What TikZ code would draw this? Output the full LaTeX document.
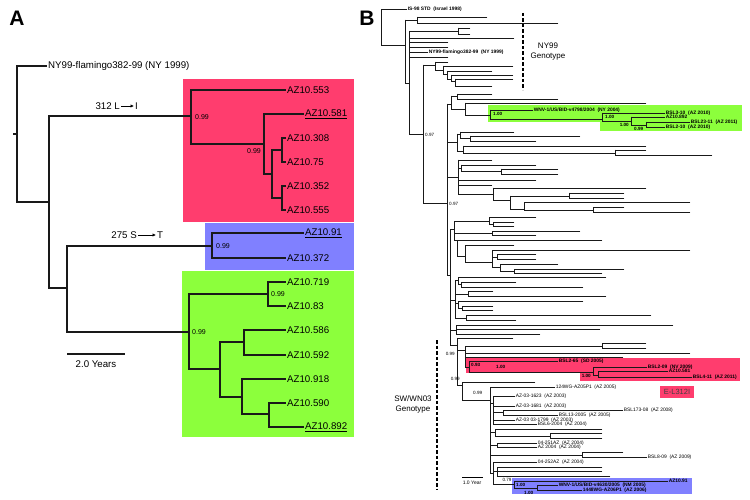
\documentclass[tikz,border=0pt]{standalone}
\usepackage{fontspec}
\setmainfont{Liberation Sans}
\usetikzlibrary{arrows.meta}
\definecolor{redbox}{RGB}{255,61,110}
\definecolor{bluebox}{RGB}{128,128,255}
\definecolor{greenbox}{RGB}{140,255,60}
\newcommand\Hb[3]{\draw[bbr] (#2,#1) -- (#3,#1);}
\newcommand\Vb[3]{\draw[bbr] (#1,#2) -- (#1,#3);}
\begin{document}
\begin{tikzpicture}[x=1pt,y=-1pt,
  abr/.style={line width=1.15pt, draw=black!90},
  bbr/.style={line width=0.75pt, draw=black!90, line cap=rect},
  alab/.style={anchor=west, inner sep=1pt, font=\fontsize{9.7}{11}\selectfont},
  asup/.style={inner sep=0pt, font=\fontsize{7}{8}\selectfont},
  blab/.style={anchor=west, inner sep=0.6pt, font=\fontsize{4.9}{5.5}\selectfont},
  bbold/.style={anchor=west, inner sep=0.6pt, font=\fontsize{4.9}{5.5}\selectfont\bfseries},
  bsup/.style={inner sep=0pt, font=\fontsize{4.6}{5}\selectfont},
  bsupb/.style={inner sep=0pt, font=\fontsize{4.6}{5}\selectfont\bfseries},
  geno/.style={align=center, inner sep=0pt, font=\fontsize{8}{10}\selectfont},
  panel/.style={inner sep=0pt, font=\fontsize{21}{21}\selectfont\bfseries},
  dashline/.style={line width=1.4pt, dash pattern=on 3.5pt off 2pt}]
\useasboundingbox (0,0) rectangle (750,500);

% ================= Panel A =================
\node[panel] (pA) at (17,18) {A};
\fill[redbox] (183,79) rectangle (354,222);
\fill[bluebox] (205,223) rectangle (354,270);
\fill[greenbox] (182,271) rectangle (354,437);

\coordinate (a0) at (17,134);
\coordinate (rt) at (13,134);
\coordinate (a1) at (49,202);
\coordinate (a2) at (191,116);
\coordinate (a3) at (67,288);
\coordinate (a4) at (264,144);
\coordinate (a5) at (272,174);
\coordinate (a6) at (282,150);
\coordinate (a7) at (282,198);
\coordinate (a8) at (212,246);
\coordinate (a9) at (189,332);
\coordinate (a10) at (268,294);
\coordinate (a11) at (220,369);
\coordinate (a12) at (244,342);
\coordinate (a13) at (242,397);
\coordinate (a14) at (269,414);

\node[alab] (ny) at (47,66) {NY99-flamingo382-99 (NY 1999)};
\node[alab] (l553) at (286,90) {AZ10.553};
\node[alab] (l581) at (304,114) {\underline{AZ10.581}};
\node[alab] (l308) at (286,138) {AZ10.308};
\node[alab] (l75) at (286,162) {AZ10.75};
\node[alab] (l352) at (286,186) {AZ10.352};
\node[alab] (l555) at (286,210) {AZ10.555};
\node[alab] (l91) at (304,233) {\underline{AZ10.91}};
\node[alab] (l372) at (286,258) {AZ10.372};
\node[alab] (l719) at (286,282) {AZ10.719};
\node[alab] (l83) at (286,306) {AZ10.83};
\node[alab] (l586) at (286,330) {AZ10.586};
\node[alab] (l592) at (286,355) {AZ10.592};
\node[alab] (l918) at (286,379) {AZ10.918};
\node[alab] (l590) at (286,403) {AZ10.590};
\node[alab] (l892) at (304,427) {\underline{AZ10.892}};

\draw[abr] (rt) -- (a0);
\draw[abr] (a0) |- (ny.west);
\draw[abr] (a0) |- (a1);
\draw[abr] (a1) |- (a2);
\draw[abr] (a1) |- (a3);
\draw[abr] (a2) |- (l553.west);
\draw[abr] (a2) |- (a4);
\draw[abr] (a4) |- (l581.west);
\draw[abr] (a4) |- (a5);
\draw[abr] (a5) |- (a6);
\draw[abr] (a5) |- (a7);
\draw[abr] (a6) |- (l308.west);
\draw[abr] (a6) |- (l75.west);
\draw[abr] (a7) |- (l352.west);
\draw[abr] (a7) |- (l555.west);
\draw[abr] (a3) |- (a8);
\draw[abr] (a3) |- (a9);
\draw[abr] (a8) |- (l91.west);
\draw[abr] (a8) |- (l372.west);
\draw[abr] (a9) |- (a10);
\draw[abr] (a9) |- (a11);
\draw[abr] (a10) |- (l719.west);
\draw[abr] (a10) |- (l83.west);
\draw[abr] (a11) |- (a12);
\draw[abr] (a11) |- (a13);
\draw[abr] (a12) |- (l586.west);
\draw[abr] (a12) |- (l592.west);
\draw[abr] (a13) |- (l918.west);
\draw[abr] (a13) |- (a14);
\draw[abr] (a14) |- (l590.west);
\draw[abr] (a14) |- (l892.west);

\node[asup, anchor=west] (s1) at (195,117.5) {0.99};
\node[asup, anchor=east] (s2) at (261,151) {0.99};
\node[asup, anchor=west] (s3) at (216,246.5) {0.99};
\node[asup, anchor=west] (s4) at (192,332.5) {0.99};
\node[asup, anchor=west] (s5) at (271,294.5) {0.99};

\node[alab, anchor=east] (m1a) at (121,106) {312 L};
\node[alab] (m1b) at (134,106) {I};
\draw[line width=0.9pt, -{Latex[length=3.5pt,width=3.5pt]}] (m1a.east) -- (m1b.west);
\node[alab, anchor=east] (m2a) at (138,235) {275 S};
\node[alab] (m2b) at (156,235) {T};
\draw[line width=0.9pt, -{Latex[length=3.5pt,width=3.5pt]}] (m2a.east) -- (m2b.west);

\coordinate (sa1) at (67,354);
\coordinate (sa2) at (125,354);
\draw[abr] (sa1) -- (sa2);
\node[inner sep=0pt, font=\fontsize{9.7}{11}\selectfont] (sal) at (96,364) {2.0 Years};

% ================= Panel B =================
\node[panel] (pB) at (367,18) {B};

\fill[greenbox] (488,105) rectangle (600,122);
\fill[greenbox] (600,105) rectangle (742,131);
\fill[redbox] (466,358) rectangle (580,373);
\fill[redbox] (580,358) rectangle (740,381);
\fill[bluebox] (512,478) rectangle (692,494);
\fill[redbox] (660,386) rectangle (694,398);
\node[inner sep=0pt, font=\fontsize{7.5}{8}\selectfont, text=black!75] (el) at (677,392) {E-L312I};

\draw[dashline] (523,13) -- (523,90);
\node[geno] (ny99g) at (548,52) {NY99\\Genotype};
\draw[dashline] (437,340) -- (437,490);
\node[geno] (swg) at (413,404.5) {SW/WN03\\Genotype};

% root and NY99 part
\Vb{381}{9.5}{45}
\Hb{9.5}{381}{407}
\Hb{45}{381}{405}
\Vb{405}{20}{83}
\Hb{20}{405}{417}
\Vb{417}{17}{23}
\Hb{17}{417}{487}
\Hb{23}{417}{558}
\Hb{83}{405}{409}
\Vb{409}{31}{134}
\Hb{31}{409}{458}
\Vb{458}{28}{34}
\Hb{28}{458}{470}
\Hb{34}{458}{470}
\Hb{38}{409}{514}
\Hb{42}{409}{448}
\Hb{47}{409}{448}
\Hb{52}{409}{428}
\Hb{57}{409}{448}
\Hb{134}{409}{423}
% E
\Vb{423}{65}{203}
\Hb{65}{423}{435}
\Vb{435}{62}{70}
\Hb{62}{435}{448}
\Hb{70}{435}{443}
\Vb{443}{66}{74}
\Hb{66}{443}{513}
\Hb{74}{443}{447}
\Vb{447}{71}{79}
\Hb{71}{447}{492}
\Hb{79}{447}{451}
\Vb{451}{75}{81}
\Hb{75}{451}{513}
\Hb{81}{451}{455}
\Vb{455}{79}{86}
\Hb{79}{455}{513}
\Hb{86}{455}{492}
% G
\Hb{203}{423}{447}
\Vb{447}{104}{275}
% K1 and green clade
\Hb{104}{447}{451}
\Vb{451}{96}{109}
\Hb{96}{451}{457}
\Vb{457}{94}{99}
\Hb{94}{457}{492}
\Hb{99}{457}{558}
\Hb{109}{451}{465}
\Vb{465}{103}{115}
\Hb{103}{465}{646}
\Hb{115}{465}{490}
\Vb{490}{110}{119}
\Hb{110}{490}{533}
\Hb{119}{490}{602}
\Vb{602}{113}{121}
\Hb{113}{602}{665}
\Hb{121}{602}{631}
\Vb{631}{117}{125}
\Hb{117}{631}{665}
\Hb{125}{631}{646}
\Vb{646}{122}{127}
\Hb{122}{646}{690}
\Hb{127}{646}{665}
% K2
\Hb{142}{447}{457}
\Vb{457}{134}{151}
\Hb{134}{457}{460}
\Vb{460}{132}{138.5}
\Hb{132}{460}{514}
\Hb{138.5}{460}{470}
\Vb{470}{136}{141}
\Hb{136}{470}{580}
\Hb{141}{470}{536}
\Hb{151}{457}{463}
\Vb{463}{146}{153}
\Hb{146}{463}{646}
\Hb{153}{463}{615}
\Vb{615}{150}{155}
\Hb{150}{615}{646}
\Hb{155}{615}{712}
% K3 / L
\Hb{177}{447}{458}
\Vb{458}{160}{194}
\Hb{160}{458}{492}
\Hb{168}{458}{461}
\Vb{461}{165}{171.5}
\Hb{165}{461}{536}
\Hb{171.5}{461}{501}
\Vb{501}{169}{174}
\Hb{169}{501}{558}
\Hb{174}{501}{558}
\Hb{180}{458}{536}
\Hb{185}{458}{492}
\Hb{194}{458}{493}
\Vb{493}{188}{200}
\Hb{188}{493}{646}
\Hb{200}{493}{510}
\Vb{510}{196}{209}
\Hb{196}{510}{569}
\Vb{569}{193}{198}
\Hb{193}{569}{624}
\Hb{198}{569}{624}
\Hb{209}{510}{524}
\Vb{524}{202}{210}
\Hb{202}{524}{690}
\Hb{210}{524}{593}
\Vb{593}{207}{212}
\Hb{207}{593}{624}
\Hb{212}{593}{690}
% P2
\Hb{275}{447}{450}
\Vb{450}{229}{345}
% a
\Hb{229}{450}{454}
\Vb{454}{221}{240}
\Hb{221}{454}{489}
\Vb{489}{217}{224}
\Hb{217}{489}{536}
\Hb{224}{489}{493}
\Vb{493}{222}{226}
\Hb{222}{493}{514}
\Hb{226}{493}{514}
\Hb{233}{454}{492}
\Vb{492}{231}{235}
\Hb{231}{492}{580}
\Hb{235}{492}{536}
\Hb{240}{454}{457}
\Vb{457}{240}{256}
\Hb{240}{457}{602}
\Hb{256}{457}{465}
\Vb{465}{245}{262}
\Hb{245}{465}{514}
\Hb{262}{465}{492}
\Vb{492}{250}{267}
\Hb{250}{492}{690}
\Hb{257}{492}{497}
\Vb{497}{254}{259}
\Hb{254}{497}{536}
\Hb{259}{497}{536}
\Hb{267}{492}{500}
\Vb{500}{264}{271}
\Hb{264}{500}{558}
\Hb{271}{500}{514}
\Vb{514}{269}{273}
\Hb{269}{514}{624}
\Hb{273}{514}{602}
% K5
\Hb{300}{450}{455}
\Vb{455}{280}{318}
\Hb{280}{455}{458}
\Vb{458}{277}{284}
\Hb{277}{458}{606}
\Hb{284}{458}{461}
\Vb{461}{282}{287}
\Hb{282}{461}{516}
\Hb{287}{461}{583}
\Hb{294}{455}{468}
\Vb{468}{291}{296}
\Hb{291}{468}{493}
\Hb{296}{468}{606}
\Hb{303}{455}{458}
\Vb{458}{301}{308}
\Hb{301}{458}{583}
\Hb{308}{458}{462}
\Vb{462}{306}{310}
\Hb{306}{462}{493}
\Hb{310}{462}{493}
\Hb{318}{455}{466}
\Vb{466}{315}{320}
\Hb{315}{466}{651}
\Hb{320}{466}{516}
% K6
\Hb{330}{450}{456}
\Vb{456}{325}{334}
\Hb{325}{456}{673}
\Hb{329.5}{456}{600}
\Hb{334}{456}{540}
% S1
\Hb{345}{450}{457}
\Vb{457}{338}{385}
\Hb{338}{457}{513}
\Hb{350}{457}{465}
\Vb{465}{346}{367}
\Hb{346}{465}{602}
\Vb{602}{343}{348}
\Hb{343}{602}{646}
\Hb{348}{602}{646}
\Hb{353}{465}{690}
\Hb{357}{465}{623}
% red clade
\Hb{367}{465}{469}
\Vb{469}{361}{372}
\Hb{361}{469}{558}
\Hb{372}{469}{593}
\Vb{593}{367}{375}
\Hb{367}{593}{647}
\Hb{375}{593}{598}
\Vb{598}{371}{377}
\Hb{371}{598}{668}
\Hb{377}{598}{692}
% S3, S5
\Hb{385}{457}{462}
\Vb{462}{382}{400}
\Hb{382}{462}{535}
\Hb{400}{462}{490}
\Vb{490}{387}{473}
\Hb{387}{490}{555}
% T1
\Hb{403}{490}{493}
\Vb{493}{396}{424}
\Hb{396}{493}{515}
\Hb{406}{493}{515}
\Hb{412}{493}{503}
\Vb{503}{410}{415}
\Hb{410}{503}{623}
\Hb{415}{503}{558}
\Hb{420}{493}{515}
\Hb{424}{493}{537}
% T3
\Hb{432}{490}{495}
\Vb{495}{429}{436}
\Hb{429}{495}{602}
\Hb{436}{495}{550}
\Vb{550}{433}{438}
\Hb{433}{550}{602}
\Hb{438}{550}{602}
% T4
\Hb{445}{490}{497}
\Vb{497}{443}{447}
\Hb{443}{497}{537}
\Hb{447}{497}{537}
% T5
\Hb{455}{490}{582}
\Vb{582}{452}{457}
\Hb{452}{582}{623}
\Hb{457}{582}{647}
% T6 and blue clade
\Hb{473}{490}{493}
\Vb{493}{462}{484}
\Hb{462}{493}{537}
\Vb{497}{467}{476}
\Hb{471.5}{493}{602}
\Hb{467}{497}{602}
\Hb{476}{497}{610}
\Hb{484}{493}{514}
\Vb{514}{481}{488}
\Hb{481}{514}{668}
\Hb{488}{514}{537}
\Vb{537}{485}{490}
\Hb{485}{537}{558}
\Hb{490}{537}{582}

% B labels
\node[bbold] (bis) at (407,9.5) {IS-98 STD~~(Israel 1998)};
\node[bbold] (bny) at (428,52) {NY99-flamingo382-99~~(NY 1999)};
\node[bbold] (bwnv1) at (533,110) {WNV-1/US/BID-v4798/2004~~(NY 2004)};
\node[bbold] (bbsl310) at (665,113) {BSL3-10~~(AZ 2010)};
\node[bbold] (baz892) at (665,117) {AZ10.892};
\node[bbold] (bbsl2311) at (690,122) {BSL23-11~~(AZ 2011)};
\node[bbold] (bbsl210) at (665,127) {BSL2-10~~(AZ 2010)};
\node[bbold] (bbsl265) at (558,361) {BSL2-65~~(SD 2005)};
\node[bbold] (bbsl209) at (647,367) {BSL2-09~~(NV 2009)};
\node[bbold] (baz581) at (668,371) {AZ10.581};
\node[bbold] (bbsl411) at (692,377) {BSL4-11~~(AZ 2011)};
\node[blab] (b124) at (555,387) {124WG-AZ05P1~~(AZ 2005)};
\node[blab] (b1623) at (515,396) {AZ-03-1623~~(AZ 2003)};
\node[blab] (b1681) at (515,406) {AZ-03-1681~~(AZ 2003)};
\node[blab] (b173) at (623,410) {BSL173-08~~(AZ 2008)};
\node[blab] (b13) at (558,415) {BSL13-2005~~(AZ 2005)};
\node[blab] (b1799) at (515,420) {AZ-03 03-1799~~(AZ 2003)};
\node[blab] (b6) at (537,424) {BSL6-2004~~(AZ 2004)};
\node[blab] (b251) at (537,443) {04-251AZ~~(AZ 2004)};
\node[blab] (b2004) at (537,447) {AZ 2004~~(AZ 2004)};
\node[blab] (b809) at (647,457) {BSL8-09~~(AZ 2009)};
\node[blab] (b252) at (537,462) {04-252AZ~~(AZ 2004)};
\node[bbold] (baz91) at (668,481) {AZ10.91};
\node[bbold] (bwnv2) at (558,485) {WNV-1/US/BID-v4630/2005~~(NM 2005)};
\node[bbold] (b1448) at (582,490) {1448WG-AZ06P1~~(AZ 2006)};

% B support values
\node[bsup, anchor=west] (q1) at (425,135) {0.97};
\node[bsup, anchor=west] (q2) at (449,204) {0.97};
\node[bsupb, anchor=west] (q3) at (493,114) {1.00};
\node[bsupb, anchor=west] (q4) at (605,117) {1.00};
\node[bsupb, anchor=east] (q5) at (629,124.5) {1.00};
\node[bsupb, anchor=west] (q6) at (634,129) {0.99};
\node[bsup, anchor=east] (q7) at (455,354) {0.99};
\node[bsup, anchor=east] (q8) at (460,378.5) {0.99};
\node[bsup, anchor=west] (q9) at (473,393) {0.99};
\node[bsupb, anchor=west] (q10) at (471,365) {0.93};
\node[bsupb, anchor=west] (q11) at (496,367) {1.00};
\node[bsupb, anchor=east] (q12) at (591,376) {1.00};
\node[bsup] (q13) at (507,479.5) {0.79};
\node[bsupb, anchor=west] (q14) at (516,484.5) {1.00};
\node[bsupb, anchor=west] (q15) at (524,492.5) {1.00};

% B scale
\coordinate (sb1) at (462,477);
\coordinate (sb2) at (483,477);
\draw[line width=0.9pt] (sb1) -- (sb2);
\node[inner sep=0pt, font=\fontsize{5}{6}\selectfont] (sbl) at (472,483) {1.0 Year};
\end{tikzpicture}
\end{document}
